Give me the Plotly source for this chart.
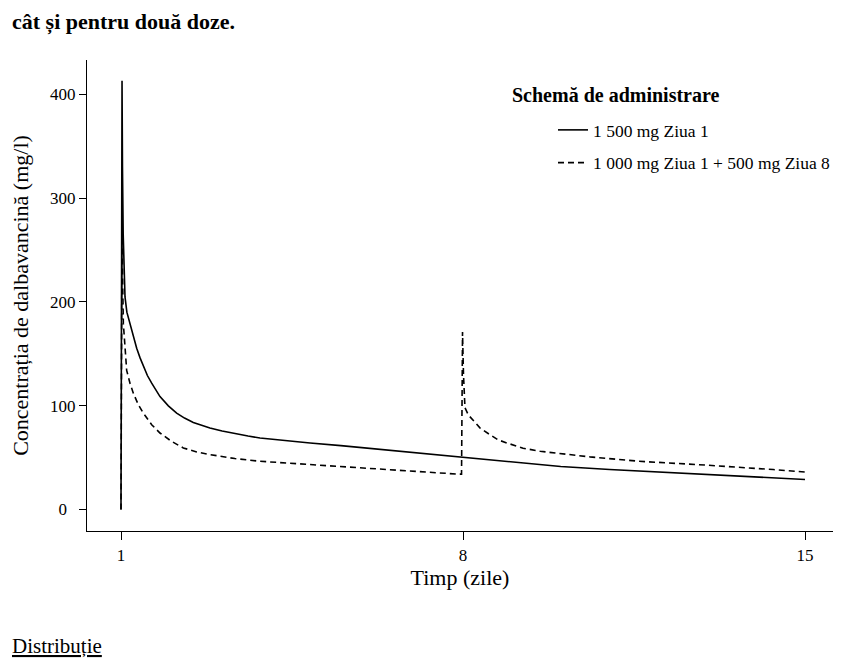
import plotly.graph_objects as go

# Single dose 1500 mg on day 1
t_single = [1.0, 1.021, 1.03, 1.045, 1.06, 1.082, 1.12, 1.184, 1.25, 1.321, 1.39, 1.457,
            1.54, 1.628, 1.71, 1.798, 1.969, 2.139, 2.3, 2.48, 2.65, 2.82, 3.07, 3.33,
            3.6, 3.845, 4.3, 4.87, 5.5, 6.5, 7.5, 7.95, 9.0, 10.0, 11.0, 12.0, 13.0,
            14.0, 15.0]
c_single = [0, 413, 330, 265, 235, 204.7, 190, 179.2, 166, 155.2, 146, 137.5,
            129, 121.6, 115, 108.7, 99.8, 92.8, 88, 83.8, 81, 78.4, 75.5, 72.9,
            70.7, 68.8, 66.4, 64, 61.5, 57, 52.3, 50, 45.5, 41.3, 38.5, 36, 33.6,
            31.2, 28.8]

# Two doses: 1000 mg day 1 + 500 mg day 8
t_double = [1.0, 1.021, 1.035, 1.048, 1.082, 1.116, 1.184, 1.252, 1.355, 1.457, 1.628,
            1.798, 2.037, 2.276, 2.549, 2.82, 3.33, 3.845, 4.87, 6.0, 7.0, 7.9, 7.97,
            7.99, 8.01, 8.04, 8.11, 8.21, 8.35, 8.55, 8.72, 8.9, 9.23, 9.58, 10.1,
            10.6, 11.6, 12.2, 13.0, 14.35, 15.0]
c_double = [0, 275, 215, 179, 156.7, 134, 121.6, 112, 100.8, 92.8, 81.6,
            73.6, 65.5, 59.2, 55.4, 52.8, 49, 46.4, 43.2, 39.5, 36.5, 34, 34,
            171, 130, 98, 91, 86, 78.4, 72, 67, 64, 59, 56, 53,
            50.6, 46.4, 45, 42.6, 38.4, 36]

series_names = ["1 500 mg Ziua 1", "1 000 mg Ziua 1 + 500 mg Ziua 8"]
x_ticks = [1, 8, 15]
x_labels = ["1", "8", "15"]
y_ticks = [0, 100, 200, 300, 400]
y_labels = ["0\u2007", "100", "200", "300", "400"]

FONT = "Liberation Serif"

fig = go.Figure()
fig.add_trace(go.Scatter(x=t_single, y=c_single, mode="lines", name=series_names[0],
                         line=dict(color="black", width=1.6), legendgroup="a"))
fig.add_trace(go.Scatter(x=t_double, y=c_double, mode="lines", name=series_names[1],
                         line=dict(color="black", width=1.6, dash="6px,4px"), legendgroup="b"))

L, R, T, B = 87, 31, 60, 133
W, H = 864, 664
pw = W - L - R
ph = H - T - B


def px_x(px):
    return (px - L) / pw


def px_y(py):
    return (H - B - py) / ph


fig.update_layout(
    width=W, height=H,
    margin=dict(l=L, r=R, t=T, b=B, autoexpand=False),
    paper_bgcolor="white", plot_bgcolor="white",
    font=dict(family=FONT, color="black", size=17.5),
    showlegend=True,
    legend=dict(x=px_x(553), y=px_y(112), xanchor="left", yanchor="top",
                font=dict(family=FONT, size=17.5, color="black"),
                bgcolor="rgba(0,0,0,0)", tracegroupgap=7, traceorder="grouped"),
    xaxis=dict(range=[0.304, 15.573], tickvals=x_ticks, ticktext=x_labels,
               showgrid=False, zeroline=False, showline=True, linecolor="black", linewidth=1.3,
               ticks="outside", ticklen=8, tickwidth=1.3, tickcolor="black",
               tickfont=dict(family=FONT, size=17), automargin=False,
               title=dict(text="Timp (zile)", font=dict(family=FONT, size=22), standoff=3)),
    yaxis=dict(range=[-20.8, 433], tickvals=y_ticks, ticktext=y_labels,
               showgrid=False, zeroline=False, showline=True, linecolor="black", linewidth=1.3,
               ticks="outside", ticklen=7, tickwidth=1.3, tickcolor="black",
               tickfont=dict(family=FONT, size=17), automargin=False,
               title=dict(text="Concentrația de dalbavancină (mg/l)",
                          font=dict(family=FONT, size=22), standoff=15)),
)

fig.add_annotation(text="<b>Schemă de administrare</b>", xref="paper", yref="paper",
                   x=px_x(510), y=px_y(95), xanchor="left", yanchor="middle",
                   showarrow=False, font=dict(family=FONT, size=20, color="black"))

fig.add_annotation(text="<b>cât și pentru două doze.</b>", xref="paper", yref="paper",
                   x=px_x(10), y=px_y(22), xanchor="left", yanchor="middle",
                   showarrow=False, font=dict(family=FONT, size=22, color="black"))

fig.add_annotation(text="<u>Distribuție</u>", xref="paper", yref="paper",
                   x=px_x(10), y=px_y(646), xanchor="left", yanchor="middle",
                   showarrow=False, font=dict(family=FONT, size=21, color="black"))

fig.write_html("out.html", config={"displayModeBar": False},
               post_script="document.body.style.margin='0';")
